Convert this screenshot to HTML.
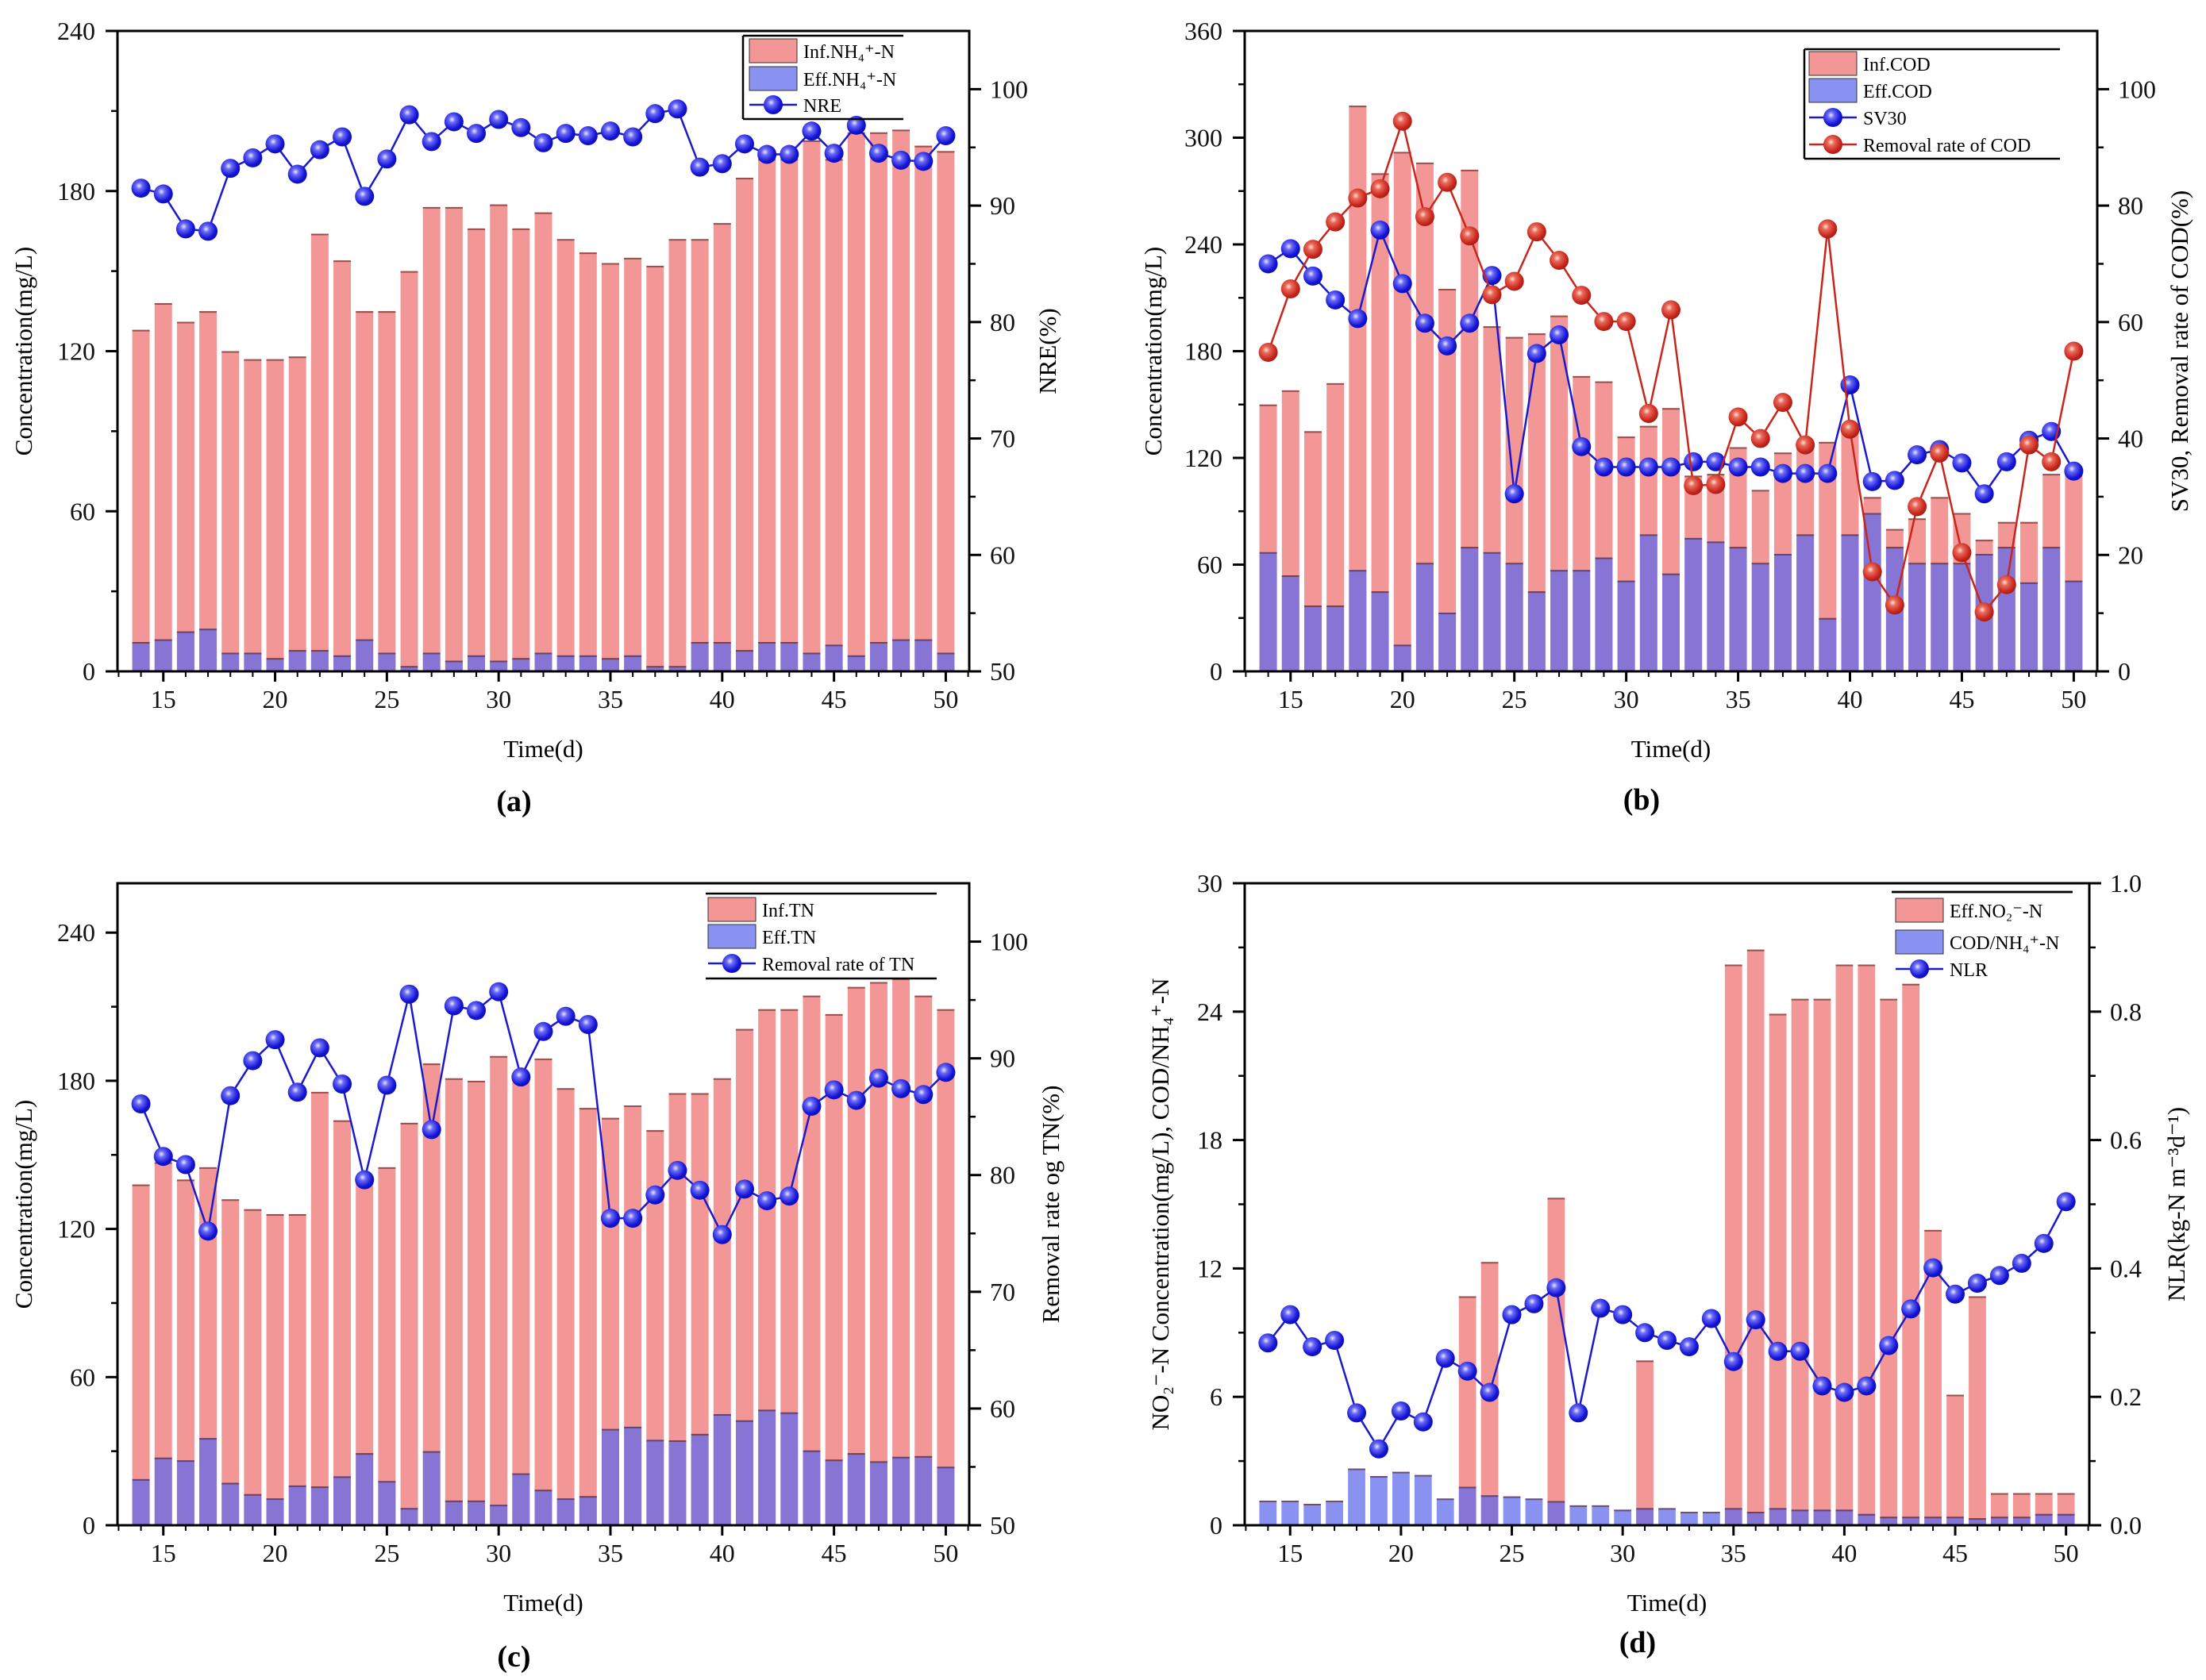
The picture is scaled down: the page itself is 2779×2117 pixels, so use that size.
<!DOCTYPE html>
<html><head><meta charset="utf-8"><style>
html,body{margin:0;padding:0;background:#fff;}
svg{display:block;font-family:"Liberation Serif",serif;}
</style></head>
<body>
<svg id="fig" width="2779" height="2117" viewBox="0 0 2779 2117" xmlns="http://www.w3.org/2000/svg">
<defs>
<radialGradient id="gBlue" cx="0.4" cy="0.38" r="0.7">
<stop offset="0" stop-color="#e8e8ff"/><stop offset="0.25" stop-color="#6a6af5"/><stop offset="0.7" stop-color="#1414d6"/><stop offset="1" stop-color="#0a0aa8"/></radialGradient>
<radialGradient id="gRed" cx="0.4" cy="0.38" r="0.7">
<stop offset="0" stop-color="#ffe0d8"/><stop offset="0.25" stop-color="#e86a5a"/><stop offset="0.7" stop-color="#c8261c"/><stop offset="1" stop-color="#9a1810"/></radialGradient>
</defs>
</svg>
<script>
const days=[14,15,16,17,18,19,20,21,22,23,24,25,26,27,28,29,30,31,32,33,34,35,36,37,38,39,40,41,42,43,44,45,46,47,48,49,50];
const xTicks=[15,20,25,30,35,40,45,50];
// (a)
const infNH4=[128,138,131,135,120,117,117,118,164,154,135,135,150,174,174,166,175,166,172,162,157,153,155,152,162,162,168,185,192,192,199,192,202,202,203,197,195];
const effNH4=[11,12,15,16,7,7,5,8,8,6,12,7,2,7,4,6,4,5,7,6,6,5,6,2,2,11,11,8,11,11,7,10,6,11,12,12,7];
const nre=[91.5,91,88,87.8,93.2,94.1,95.3,92.7,94.8,95.9,90.8,94,97.8,95.5,97.2,96.2,97.4,96.7,95.4,96.2,96,96.4,95.9,97.9,98.3,93.3,93.6,95.3,94.4,94.4,96.4,94.5,96.9,94.5,93.9,93.8,96];
const aLeftTicks=[0,60,120,180,240];
const aRightTicks=[50,60,70,80,90,100];
// (b)
const infCOD=[150,158,135,162,318,280,292,286,215,282,194,188,190,200,166,163,132,138,148,110,111,126,102,123,126,129,135,98,80,86,98,89,74,84,84,111,114];
const effCOD=[67,54,37,37,57,45,15,61,33,70,67,61,45,57,57,64,51,77,55,75,73,70,61,66,77,30,77,89,70,61,61,61,66,70,50,70,51];
const sv30=[70,72.6,67.9,63.8,60.6,75.8,66.6,59.8,55.9,59.8,68,30.5,54.6,57.8,38.6,35.1,35.1,35.1,35.1,36,36,35.1,35.1,34,34,34,49.2,32.6,32.8,37.2,38.1,35.8,30.5,36,39.7,41.2,34.4];
const codRemoval=[54.8,65.7,72.5,77.2,81.3,82.9,94.5,78.1,84,74.8,64.7,67,75.5,70.6,64.6,60.1,60.1,44.3,62.1,31.9,32.1,43.7,40,46.2,38.9,76,41.6,17.1,11.4,28.3,37.5,20.4,10.2,14.9,38.9,36,55];
const bLeftTicks=[0,60,120,180,240,300,360];
const bRightTicks=[0,20,40,60,80,100];
// (c)
const infTN=[138,147,140,145,132,128,126,126,175.5,164,140,145,163,187,181,180,190,183,189,177,169,165,170,160,175,175,181,201,209,209,214.5,207,218,220,221.5,214.5,209];
const effTN=[18.7,27.4,26.3,35.3,17.2,12.6,10.9,16.1,15.7,19.8,29.2,17.9,7,30,10,10,8.3,21,14.4,10.9,11.8,39,39.9,34.6,34.4,37,45,42.5,46.8,45.7,30.3,26.6,29.2,25.9,27.7,28,23.7];
const tnRemoval=[86.1,81.6,80.9,75.2,86.8,89.8,91.6,87.1,90.9,87.8,79.6,87.7,95.5,83.9,94.5,94.1,95.7,88.4,92.3,93.6,92.9,76.3,76.3,78.3,80.4,78.7,74.9,78.8,77.8,78.2,85.9,87.3,86.4,88.3,87.4,86.9,88.8];
const cLeftTicks=[0,60,120,180,240];
const cRightTicks=[50,60,70,80,90,100];
// (d)
const effNO2=[0,0,0,0,0,0,0,0,0,10.7,12.3,0,0,15.3,0,0,0,7.7,0,0,0,26.2,26.9,23.9,24.6,24.6,26.2,26.2,24.6,25.3,13.8,6.1,10.7,1.5,1.5,1.5,1.5];
const codNH4=[1.15,1.15,1.0,1.15,2.65,2.3,2.5,2.35,1.25,1.8,1.4,1.35,1.25,1.13,0.93,0.93,0.73,0.8,0.8,0.63,0.63,0.8,0.63,0.8,0.73,0.73,0.73,0.53,0.4,0.4,0.4,0.4,0.33,0.4,0.4,0.53,0.53];
const nlr=[0.284,0.328,0.278,0.288,0.175,0.119,0.178,0.161,0.26,0.24,0.207,0.328,0.345,0.37,0.175,0.338,0.328,0.3,0.288,0.278,0.322,0.255,0.32,0.271,0.271,0.217,0.207,0.217,0.28,0.337,0.401,0.36,0.377,0.389,0.408,0.439,0.504];
const dLeftTicks=[0,6,12,18,24,30];
const dRightTicks=[0,0.2,0.4,0.6,0.8,1.0];

const NS='http://www.w3.org/2000/svg';
const fig=document.getElementById('fig');
const PINK='#f29696', EFF='rgba(92,104,236,0.72)';
function mk(tag,attrs,parent){const e=document.createElementNS(NS,tag);for(const k in attrs)e.setAttribute(k,attrs[k]);(parent||fig).appendChild(e);return e;}
function txt(s,attrs,parent){const e=mk('text',attrs,parent);e.textContent=s;return e;}

function chart(c){
  const g=mk('g',{});
  
  
  const X0=12.95,X1=51.05;
  const sx=v=>c.L+(v-X0)/(X1-X0)*(c.R-c.L);
  const syl=v=>c.B-(v-c.yl[0])/(c.yl[1]-c.yl[0])*(c.B-c.T);
  const syr=v=>c.B-(v-c.yr[0])/(c.yr[1]-c.yr[0])*(c.B-c.T);
  const bw=(sx(1)-sx(0))*0.78;
  c.bars.forEach(bs=>{
    const bg=mk('g',{},g);
    
    
    bs.vals.forEach((v,i)=>{
      if(v<=0)return;
      const x=sx(days[i])-bw/2,y=syl(v);
      const r=mk('rect',{x:x,y:y,width:bw,height:c.B-y,fill:bs.color},bg);
      
      
      mk('line',{x1:x,x2:x+bw,y1:y+1,y2:y+1,stroke:'#5a2020','stroke-width':2,'stroke-opacity':0.6},bg);
    });
  });
  c.lines.forEach(ls=>{
    const lg=mk('g',{},g);
    
    
    const pts=ls.vals.map((v,i)=>sx(days[i])+','+syr(v)).join(' ');
    mk('polyline',{points:pts,fill:'none',stroke:ls.stroke,'stroke-width':2.5},lg);
    ls.vals.forEach((v,i)=>{
      const m=mk('circle',{cx:sx(days[i]),cy:syr(v),r:12,fill:ls.fill},lg);
      
      
    });
  });
  const ax=mk('g',{stroke:'#000','stroke-width':3,fill:'none'},g);
  
  
  mk('rect',{x:c.L,y:c.T,width:c.R-c.L,height:c.B-c.T},ax);
  const tg=mk('g',{'font-size':32,fill:'#111'},g);
  
  
  xTicks.forEach(t=>{
    mk('line',{x1:sx(t),x2:sx(t),y1:c.B,y2:c.B+13,stroke:'#000','stroke-width':3},g);
    txt(String(t),{x:sx(t),y:c.B+46,'text-anchor':'middle'},tg);
  });
  for(let t=13;t<=51;t++){ if(t%5) mk('line',{x1:sx(t),x2:sx(t),y1:c.B,y2:c.B+7,stroke:'#000','stroke-width':2},g);}
  c.ylt.forEach((t,i)=>{
    mk('line',{x1:c.L-15,x2:c.L,y1:syl(t),y2:syl(t),stroke:'#000','stroke-width':3},g);
    txt(String(t),{x:c.L-28,y:syl(t)+11,'text-anchor':'end'},tg);
    if(i<c.ylt.length-1){const m=(t+c.ylt[i+1])/2;mk('line',{x1:c.L-8,x2:c.L,y1:syl(m),y2:syl(m),stroke:'#000','stroke-width':2.5},g);}
  });
  c.yrt.forEach((t,i)=>{
    mk('line',{x1:c.R,x2:c.R+15,y1:syr(t),y2:syr(t),stroke:'#000','stroke-width':3},g);
    txt(c.rfmt?t.toFixed(1):String(t),{x:c.R+26,y:syr(t)+11,'text-anchor':'start'},tg);
    const step=c.yrt[1]-c.yrt[0],m=t+step/2;
    if(m<c.yr[1])mk('line',{x1:c.R,x2:c.R+8,y1:syr(m),y2:syr(m),stroke:'#000','stroke-width':2.5},g);
  });
  const yl=txt(c.ylabel,{x:0,y:0,'font-size':31,'text-anchor':'middle',transform:`translate(${c.ylx},${(c.T+c.B)/2}) rotate(-90)`},g);
  
  
  const yr=txt(c.yrlabel,{x:0,y:0,'font-size':31,'text-anchor':'middle',transform:`translate(${c.yrx},${(c.T+c.B)/2}) rotate(-90)`},g);
  
  
  const xt=txt('Time(d)',{x:(c.L+c.R)/2,y:c.B+108,'font-size':31,'text-anchor':'middle'},g);
  
  
  const pl=txt(c.panel,{x:(c.L+c.R)/2-37,y:c.plY,'font-size':38,'font-weight':'bold','text-anchor':'middle'},g);
  
  
  const lg=mk('g',{'font-size':24},g);
  
  
  const L=c.leg;
  mk('line',{x1:L.x,x2:L.x2,y1:L.y,y2:L.y,stroke:'#000','stroke-width':2.5},lg);
  mk('line',{x1:L.x,x2:L.x2,y1:L.yb,y2:L.yb,stroke:'#000','stroke-width':2.5},lg);
  if(L.left)mk('line',{x1:L.x,x2:L.x,y1:L.y,y2:L.yb,stroke:'#000','stroke-width':2.5},lg);
  if(L.right)mk('line',{x1:L.x2,x2:L.x2,y1:L.y,y2:L.yb,stroke:'#000','stroke-width':2.5},lg);
  L.items.forEach((it,i)=>{
    const y=L.rows[i];
    const e=mk('g',{},lg);
    
    
    if(it.type==='bar'){mk('rect',{x:L.sx,y:y-15,width:60,height:30,fill:it.color,stroke:'#333','stroke-width':1},e);}
    else{mk('line',{x1:L.sx,x2:L.sx+60,y1:y,y2:y,stroke:it.stroke,'stroke-width':2.5},e);mk('circle',{cx:L.sx+30,cy:y,r:12,fill:it.fill},e);}
    txt(it.label,{x:L.sx+68,y:y+9},e);
  });
}

chart({name:'panel-a-nh4',L:148,R:1221,T:39,B:846,yl:[0,240],yr:[50,105],ylt:aLeftTicks,yrt:aRightTicks,
  bars:[{name:'inf-nh4-bars',vals:infNH4,color:PINK},{name:'eff-nh4-bars',vals:effNH4,color:EFF}],
  lines:[{name:'nre-line',vals:nre,stroke:'#1a1acc',fill:'url(#gBlue)'}],
  ylabel:'Concentration(mg/L)',ylx:40,yrlabel:'NRE(%)',yrx:1330,panel:'(a)',plY:1022,
  leg:{x:936,x2:1138,y:45,yb:150,left:true,sx:944,rows:[64,99,132],items:[
    {type:'bar',color:PINK,label:'Inf.NH₄⁺-N'},{type:'bar',color:EFF,label:'Eff.NH₄⁺-N'},{type:'line',stroke:'#1a1acc',fill:'url(#gBlue)',label:'NRE'}]}});

chart({name:'panel-b-cod',L:1568,R:2642,T:39,B:846,yl:[0,360],yr:[0,110],ylt:bLeftTicks,yrt:bRightTicks,
  bars:[{name:'inf-cod-bars',vals:infCOD,color:PINK},{name:'eff-cod-bars',vals:effCOD,color:EFF}],
  lines:[{name:'sv30-line',vals:sv30,stroke:'#1a1acc',fill:'url(#gBlue)'},{name:'cod-removal-line',vals:codRemoval,stroke:'#c8261c',fill:'url(#gRed)'}],
  ylabel:'Concentration(mg/L)',ylx:1463,yrlabel:'SV30, Removal rate of COD(%)',yrx:2756,panel:'(b)',plY:1020,
  leg:{x:2273,x2:2595,y:62,yb:200,left:true,sx:2279,rows:[80,114,148,182],items:[
    {type:'bar',color:PINK,label:'Inf.COD'},{type:'bar',color:EFF,label:'Eff.COD'},{type:'line',stroke:'#1a1acc',fill:'url(#gBlue)',label:'SV30'},{type:'line',stroke:'#c8261c',fill:'url(#gRed)',label:'Removal rate of COD'}]}});

chart({name:'panel-c-tn',L:148,R:1221,T:1113,B:1922,yl:[0,260],yr:[50,105],ylt:cLeftTicks,yrt:cRightTicks,
  bars:[{name:'inf-tn-bars',vals:infTN,color:PINK},{name:'eff-tn-bars',vals:effTN,color:EFF}],
  lines:[{name:'tn-removal-line',vals:tnRemoval,stroke:'#1a1acc',fill:'url(#gBlue)'}],
  ylabel:'Concentration(mg/L)',ylx:40,yrlabel:'Removal rate og TN(%)',yrx:1334,panel:'(c)',plY:2100,
  leg:{x:889,x2:1180,y:1126,yb:1233,left:false,sx:892,rows:[1146,1180,1214],items:[
    {type:'bar',color:PINK,label:'Inf.TN'},{type:'bar',color:EFF,label:'Eff.TN'},{type:'line',stroke:'#1a1acc',fill:'url(#gBlue)',label:'Removal rate of TN'}]}});

chart({name:'panel-d-no2',L:1568,R:2632,T:1113,B:1922,yl:[0,30],yr:[0,1.0],ylt:dLeftTicks,yrt:dRightTicks,rfmt:true,
  bars:[{name:'eff-no2-bars',vals:effNO2,color:PINK},{name:'cod-nh4-ratio-bars',vals:codNH4,color:EFF}],
  lines:[{name:'nlr-line',vals:nlr,stroke:'#1a1acc',fill:'url(#gBlue)'}],
  ylabel:'NO₂⁻-N Concentration(mg/L), COD/NH₄⁺-N',ylx:1472,yrlabel:'NLR(kg-N m⁻³d⁻¹)',yrx:2752,panel:'(d)',plY:2082,
  leg:{x:2383,x2:2611,y:1124,yb:1124,left:false,right:true,sx:2388,rows:[1147,1187,1221],items:[
    {type:'bar',color:PINK,label:'Eff.NO₂⁻-N'},{type:'bar',color:EFF,label:'COD/NH₄⁺-N'},{type:'line',stroke:'#1a1acc',fill:'url(#gBlue)',label:'NLR'}]}});
</script>
</body></html>
